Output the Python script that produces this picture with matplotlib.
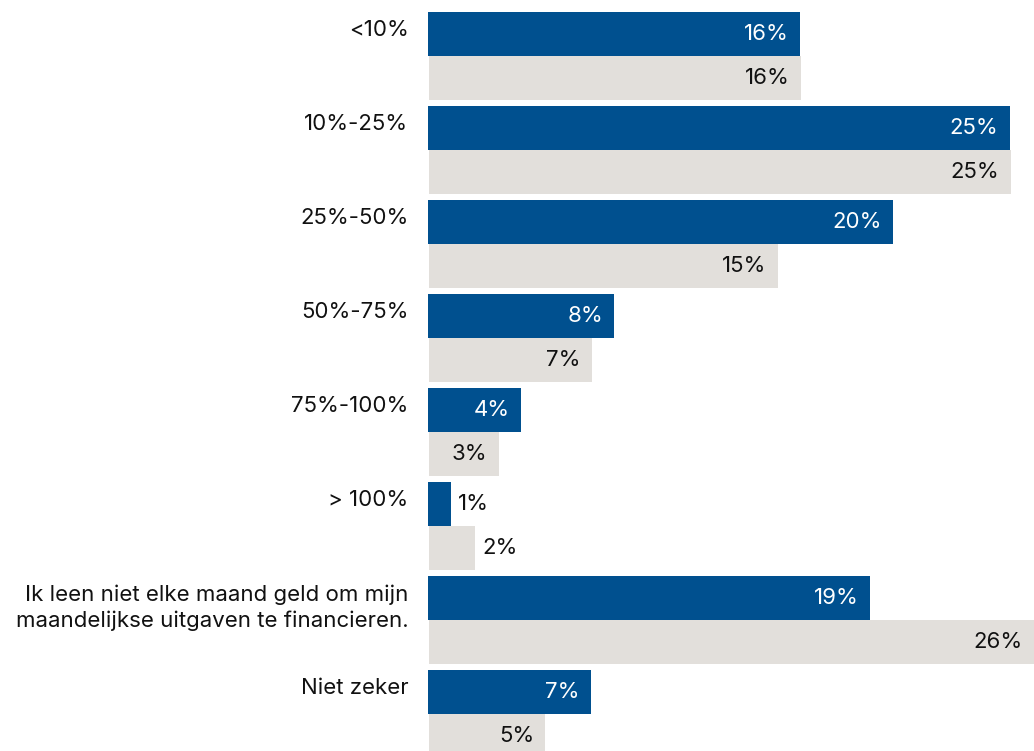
import numpy as np
import matplotlib.pyplot as plt

plt.rcParams['font.family'] = ['Inter', 'DejaVu Sans']

categories = ['<10%', '10%-25%', '25%-50%', '50%-75%', '75%-100%', '> 100%',
              'Ik leen niet elke maand geld om mijn\nmaandelijkse uitgaven te financieren.',
              'Niet zeker']
blue_vals = [16, 25, 20, 8, 4, 1, 19, 7]
gray_vals = [16, 25, 15, 7, 3, 2, 26, 5]

blue = '#00508f'
gray = '#e2dfdb'

W, H = 1034, 751
fig = plt.figure(figsize=(W / 100, H / 100), dpi=100)
# axes in pixel placement: bars start at x=428, top at y=12
ax = fig.add_axes([428 / W, 0, 1 - 428 / W, (H - 12) / H])

pitch, bh = 94, 44
pos = np.arange(len(categories)) * pitch
ax.barh(pos + bh / 2, blue_vals, height=bh, color=blue)
ax.barh(pos + bh * 1.5, gray_vals, height=bh, color=gray, left=0.04)

ax.set_xlim(0, 26.05)
ax.set_ylim(H - 12, 0)
ax.axis('off')

for i, (b, g) in enumerate(zip(blue_vals, gray_vals)):
    for v, y, col, left in [(b, pos[i] + bh / 2, 'white', 0), (g, pos[i] + bh * 1.5, '#111111', 0.04)]:
        if v >= 3:
            ax.annotate(f'{v}%', (v + left, y), xytext=(-8, 0), textcoords='offset points',
                        ha='right', va='center', fontsize=16, color=col)
        else:
            ax.annotate(f'{v}%', (v + left, y), xytext=(5, 0), textcoords='offset points',
                        ha='left', va='center', fontsize=16, color='#111111')
    ax.annotate(categories[i], (0, pos[i]), xytext=(-14, -6), textcoords='offset points',
                ha='right', va='top', fontsize=16, color='#111111',
                linespacing=1.32, annotation_clip=False)

fig.savefig('out.png', dpi=100)
